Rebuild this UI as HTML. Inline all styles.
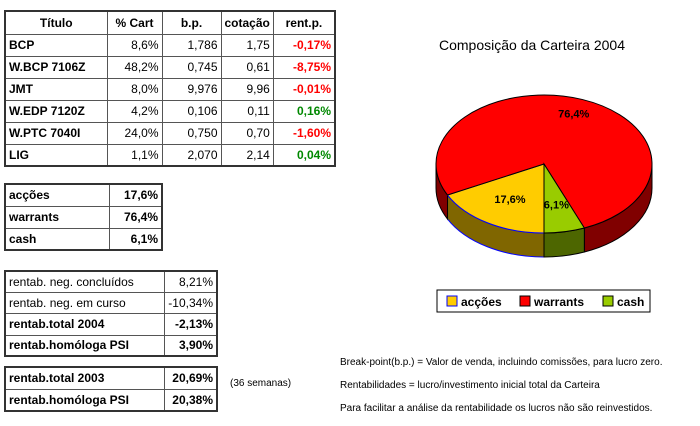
<!DOCTYPE html>
<html><head><meta charset="utf-8"><style>
body{margin:0;width:700px;height:426px;background:#fff;position:relative;overflow:hidden;font-family:"Liberation Sans",sans-serif;}
table{position:absolute;border-collapse:collapse;border:2px solid #333;}
td{border:1px solid #555;padding:0 3px;font-size:12px;height:20px;box-sizing:border-box;white-space:nowrap;}
.b{font-weight:bold}.r{text-align:right}.c{text-align:center}
.red{color:#f00;font-weight:bold;text-align:right}.grn{color:#080;font-weight:bold;text-align:right}
.note{position:absolute;left:340px;font-size:10px;white-space:nowrap}
</style></head><body>
<table style="left:4px;top:10px;width:332px">
<tr style="height:23px" class="b c"><td style="width:102px">Título</td><td style="width:55px">% Cart</td><td style="width:59px">b.p.</td><td style="width:51px">cotação</td><td>rent.p.</td></tr>
<tr style="height:22px"><td class="b">BCP</td><td class="r">8,6%</td><td class="r">1,786</td><td class="r">1,75</td><td class="red">-0,17%</td></tr>
<tr style="height:22px"><td class="b">W.BCP 7106Z</td><td class="r">48,2%</td><td class="r">0,745</td><td class="r">0,61</td><td class="red">-8,75%</td></tr>
<tr style="height:22px"><td class="b">JMT</td><td class="r">8,0%</td><td class="r">9,976</td><td class="r">9,96</td><td class="red">-0,01%</td></tr>
<tr style="height:22px"><td class="b">W.EDP 7120Z</td><td class="r">4,2%</td><td class="r">0,106</td><td class="r">0,11</td><td class="grn">0,16%</td></tr>
<tr style="height:22px"><td class="b">W.PTC 7040I</td><td class="r">24,0%</td><td class="r">0,750</td><td class="r">0,70</td><td class="red">-1,60%</td></tr>
<tr style="height:22px"><td class="b">LIG</td><td class="r">1,1%</td><td class="r">2,070</td><td class="r">2,14</td><td class="grn">0,04%</td></tr>
</table>
<table style="left:4px;top:183px;width:159px">
<tr style="height:22px"><td class="b" style="width:104px">acções</td><td class="b r">17,6%</td></tr>
<tr style="height:22px"><td class="b">warrants</td><td class="b r">76,4%</td></tr>
<tr style="height:22px"><td class="b">cash</td><td class="b r">6,1%</td></tr>
</table>
<table style="left:4px;top:270px;width:214px">
<tr style="height:21px"><td style="width:159px">rentab. neg. concluídos</td><td class="r">8,21%</td></tr>
<tr style="height:21px"><td>rentab. neg. em curso</td><td class="r">-10,34%</td></tr>
<tr style="height:22px"><td class="b">rentab.total 2004</td><td class="b r">-2,13%</td></tr>
<tr style="height:21px"><td class="b">rentab.homóloga PSI</td><td class="b r">3,90%</td></tr>
</table>
<table style="left:4px;top:366px;width:214px">
<tr style="height:22px"><td class="b" style="width:159px">rentab.total 2003</td><td class="b r">20,69%</td></tr>
<tr style="height:22px"><td class="b">rentab.homóloga PSI</td><td class="b r">20,38%</td></tr>
</table>
<div style="position:absolute;left:230px;top:378px;font-size:10px">(36 semanas)</div>
<div class="note" style="top:357px">Break-point(b.p.) = Valor de venda, incluindo comissões, para lucro zero.</div>
<div class="note" style="top:380px">Rentabilidades = lucro/investimento inicial total da Carteira</div>
<div class="note" style="top:403px">Para facilitar a análise da rentabilidade os lucros não são reinvestidos.</div>
<svg id="pie" width="700" height="426" style="position:absolute;left:0;top:0"></svg>
<script>
const categories=["acções","warrants","cash"];
const values=[17.6,76.4,6.1];
const labels=["17,6%","76,4%","6,1%"];
const topColors=["#ffcc00","#ff0000","#99cc00"];
const sideColors=["#806600","#800000","#4d6600"];
const edgeColors=["#0000ff","#000","#000"];
const NS="http://www.w3.org/2000/svg";
const svg=document.getElementById('pie');
const cx=544,cy=164,rx=108,ry=69,depth=24;
function pt(a,dy){return [cx+rx*Math.cos(a),cy+ry*Math.sin(a)+(dy||0)];}
function mk(tag,attrs){const e=document.createElementNS(NS,tag);for(const k in attrs)e.setAttribute(k,attrs[k]);svg.appendChild(e);return e;}
const t=mk('text',{x:532,y:50,'text-anchor':'middle','font-size':14,'font-family':'Liberation Sans, sans-serif'});
t.textContent="Composição da Carteira 2004";


const total=values.reduce((a,b)=>a+b,0);
let start=Math.PI/2;const angs=[];
values.forEach(v=>{const sweep=v/total*2*Math.PI;angs.push([start,start+sweep]);start+=sweep;});
angs.forEach((r,i)=>{
  const segs=[[0,Math.PI],[2*Math.PI,3*Math.PI]];
  segs.forEach(s=>{
    const a0=Math.max(r[0],s[0]),a1=Math.min(r[1],s[1]);
    if(a1<=a0)return;
    const p0=pt(a0),p1=pt(a1),q1=pt(a1,depth),q0=pt(a0,depth);
    const lg=(a1-a0)>Math.PI?1:0;
    const side=mk('path',{d:`M${p0}A${rx},${ry} 0 ${lg} 1 ${p1}L${q1}A${rx},${ry} 0 ${lg} 0 ${q0}Z`,fill:sideColors[i],stroke:edgeColors[i],'stroke-width':1});
    
    
  });
});
angs.forEach((r,i)=>{
  const p0=pt(r[0]),p1=pt(r[1]);const lg=(r[1]-r[0])>Math.PI?1:0;
  const s=mk('path',{d:`M${cx},${cy}L${p0}A${rx},${ry} 0 ${lg} 1 ${p1}Z`,fill:topColors[i],stroke:edgeColors[i],'stroke-width':1});
  
  
});
angs.forEach((r,i)=>{
  const m=(r[0]+r[1])/2;const f=values[i]>50?0.78:0.6;
  const x=cx+rx*f*Math.cos(m),y=cy+ry*f*Math.sin(m)+4;
  const l=mk('text',{x:x,y:y,'text-anchor':'middle','font-size':11,'font-weight':'bold','font-family':'Liberation Sans, sans-serif'});
  l.textContent=labels[i];
  
  
});
const lb=mk('rect',{x:437,y:290,width:213,height:22,fill:'#fff',stroke:'#000'});


const lx=[447,520,603];
categories.forEach((c,i)=>{
  const sw=mk('rect',{x:lx[i],y:296,width:10,height:10,fill:topColors[i],stroke:edgeColors[i]});
  
  
  const tx=mk('text',{x:lx[i]+14,y:306,'font-size':12,'font-weight':'bold','font-family':'Liberation Sans, sans-serif'});
  tx.textContent=c;
  
  
});
</script>
</body></html>
